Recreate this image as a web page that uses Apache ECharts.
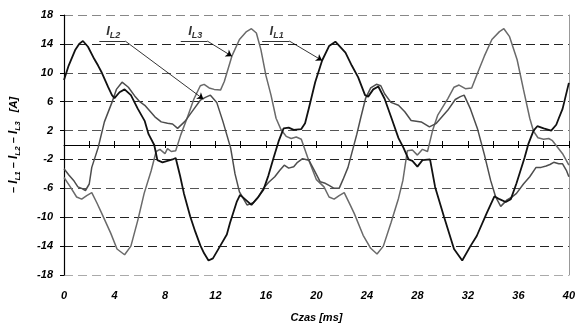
<!DOCTYPE html>
<html>
<head>
<meta charset="utf-8">
<title>Prądy fazowe</title>
<script src="https://cdn.jsdelivr.net/npm/echarts@6/dist/echarts.min.js"></script>
<style>
  html, body { margin: 0; padding: 0; background: #fff; }
  .chart { width: 578px; height: 328px; }
</style>
</head>
<body>
<div class="chart"></div>
<script>
// czas [ms] i prąd [A]
var l1Time = [0, 0.37, 0.9, 1.2, 1.5, 1.9, 2.4, 2.7, 3.0, 3.5, 3.8, 4.0, 4.4, 4.8, 5.3, 5.85, 6.4, 6.7, 7.15, 7.4, 7.8, 8.2, 8.6, 8.85, 9.2, 9.5, 10.0, 10.4, 10.8, 11.1, 11.45, 11.8, 12.4, 12.9, 13.15, 13.7, 13.95, 14.4, 14.85, 15.3, 15.8, 16.2, 16.6, 17.0, 17.4, 17.8, 18.2, 18.8, 19.1, 19.4, 19.9, 20.45, 21.0, 21.5, 22.3, 22.8, 23.3, 23.85, 24.1, 24.5, 24.9, 25.4, 25.95, 26.5, 26.9, 27.3, 27.6, 28.0, 28.4, 29.0, 29.4, 30.1, 30.9, 31.55, 32.2, 32.7, 33.5, 34.1, 34.5, 35.0, 35.4, 35.85, 36.5, 36.8, 37.2, 37.5, 38.0, 38.6, 39.0, 39.2, 39.5, 40];
var l1Val = [9.0, 11.0, 13.2, 14.0, 14.4, 13.6, 11.9, 11.0, 10.0, 8.0, 6.9, 6.5, 7.3, 7.7, 6.9, 5.0, 3.3, 1.5, 0.0, -2.1, -2.4, -2.2, -2.0, -1.8, -4.3, -6.7, -9.9, -12.0, -13.9, -15.0, -16.0, -15.7, -13.9, -12.4, -10.8, -7.8, -6.9, -7.6, -8.3, -7.4, -6.2, -4.2, -1.8, 0.5, 2.3, 2.4, 2.1, 2.2, 3.0, 5.1, 8.7, 11.7, 13.7, 14.3, 12.8, 11.0, 9.4, 6.9, 6.7, 7.7, 8.1, 6.4, 3.7, 0.95, -0.4, -2.0, -2.2, -3.0, -2.1, -2.0, -5.8, -9.9, -14.4, -16.0, -14.0, -12.6, -9.4, -7.1, -7.5, -7.9, -7.5, -5.3, -1.7, 0.2, 2.0, 2.6, 2.3, 2.0, 2.8, 3.7, 5.0, 8.6];

var l2Time = [0, 0.4, 0.8, 1.1, 1.4, 1.7, 2.0, 2.2, 2.7, 3.2, 3.8, 4.15, 4.6, 5.1, 5.6, 6.0, 6.4, 7.2, 7.7, 8.2, 8.6, 9.0, 9.6, 10.3, 10.8, 11.2, 11.6, 12.1, 12.6, 13.2, 13.55, 13.9, 14.5, 15.0, 15.4, 15.8, 16.2, 16.7, 17.1, 17.45, 17.8, 18.2, 18.5, 18.9, 19.4, 19.8, 20.3, 20.7, 21.0, 21.4, 21.8, 22.1, 22.5, 23.2, 23.5, 23.9, 24.3, 24.75, 25.1, 25.4, 25.9, 26.5, 27.0, 27.5, 27.9, 28.3, 28.95, 29.5, 30.0, 30.4, 31.0, 31.4, 31.7, 32.2, 32.75, 33.3, 33.8, 34.2, 34.6, 35.1, 35.5, 35.85, 36.4, 36.9, 37.4, 37.8, 38.2, 38.5, 38.8, 39.2, 39.5, 39.8, 40];
var l2Val = [-3.3, -4.2, -5.0, -5.8, -6.0, -6.3, -5.4, -3.1, -0.4, 3.2, 5.9, 7.7, 8.7, 8.0, 6.8, 6.0, 5.5, 3.9, 3.2, 3.0, 2.9, 2.3, 3.3, 5.0, 6.2, 6.6, 6.9, 5.9, 3.2, -0.4, -4.0, -6.5, -8.3, -8.0, -7.2, -6.0, -5.2, -4.4, -3.5, -2.8, -3.2, -3.0, -2.4, -1.9, -2.1, -3.4, -5.1, -5.3, -5.6, -6.0, -6.0, -4.8, -3.1, 1.5, 3.7, 6.5, 7.9, 8.4, 8.2, 7.1, 5.9, 5.5, 4.6, 3.4, 3.3, 3.2, 2.5, 3.0, 4.0, 4.8, 6.3, 6.7, 6.9, 5.0, 2.3, -1.3, -4.9, -7.2, -8.5, -7.6, -7.2, -6.7, -5.4, -4.4, -3.1, -3.1, -2.9, -2.7, -2.4, -2.6, -2.6, -3.5, -4.4];

var l3Time = [0, 0.5, 1.0, 1.4, 1.8, 2.2, 2.6, 3.0, 3.7, 4.2, 4.8, 5.3, 5.85, 6.35, 6.9, 7.3, 7.6, 8.0, 8.2, 8.5, 8.85, 9.25, 9.75, 10.3, 10.8, 11.1, 11.5, 11.9, 12.4, 12.7, 13.3, 13.9, 14.46, 14.85, 15.24, 15.6, 16.0, 16.4, 16.8, 17.2, 17.6, 18.0, 18.4, 18.8, 19.3, 20.0, 20.6, 21.0, 21.4, 21.8, 22.2, 22.7, 23.0, 23.7, 24.3, 24.8, 25.3, 25.9, 26.5, 26.85, 27.2, 27.6, 28.0, 28.4, 28.8, 29.2, 29.6, 30.4, 30.9, 31.3, 31.8, 32.3, 32.75, 33.3, 33.9, 34.5, 34.85, 35.3, 35.9, 36.4, 36.9, 37.2, 37.55, 38.0, 38.4, 38.7, 39.1, 39.5, 40];
var l3Val = [-4.5, -5.8, -7.2, -7.5, -7.0, -6.6, -8.0, -9.5, -12.2, -14.4, -15.2, -14.0, -10.4, -6.7, -3.6, -0.9, -0.6, -1.2, -0.5, -0.9, -0.8, 1.4, 3.7, 6.4, 8.2, 8.4, 7.9, 7.7, 7.6, 8.8, 12.3, 14.6, 15.7, 16.1, 15.5, 13.2, 9.6, 6.9, 3.7, 2.1, 1.2, 0.9, 1.1, 0.8, -1.7, -4.8, -5.8, -7.2, -7.5, -7.0, -6.6, -8.4, -9.5, -12.5, -14.3, -15.1, -14.0, -10.8, -7.4, -4.9, -0.8, -0.7, -1.4, -0.6, -0.9, 2.0, 4.1, 6.4, 8.0, 8.3, 7.8, 7.9, 9.9, 12.3, 14.6, 15.7, 16.1, 15.0, 11.8, 7.7, 3.7, 1.9, 1.0, 0.8, 0.9, 0.6, -0.3, -1.2, -2.8];

// osie
var xMin = 0, xMax = 40, xStep = 4, xMinorStep = 2;
var yMin = -18, yMax = 18, yStep = 4;

// opisy przebiegów: nazwa, środek napisu, podkreślenie, koniec strzałki
var annNames = ['L2', 'L3', 'L1'];
var annTextAt = [[3.9, 15.7], [10.4, 15.7], [16.85, 15.7]];
var annUnderline = [[2.8, 4.85], [9.25, 11.35], [15.7, 17.85]];
var annUnderlineY = 14.4;
var annArrowTo = [[11.04, 6.36], [13.3, 12.3], [20.45, 11.7]];

(function () {
  var myChart = echarts.init(document.querySelector(".chart"));
  var font = "Liberation Sans, Arial, sans-serif";

  function pairs(t, v) {
    return t.map(function (x, i) { return [x, v[i]]; });
  }

  var annLines = [];
  annUnderline.forEach(function (u, i) {
    annLines.push([
      { coord: [u[0], annUnderlineY], symbol: "none" },
      { coord: [u[1], annUnderlineY], symbol: "none" }
    ]);
    annLines.push([
      { coord: [u[1], annUnderlineY], symbol: "none" },
      { coord: annArrowTo[i], symbol: "arrow" }
    ]);
  });

  var labelText = { fontFamily: font, fontWeight: "bold", fontStyle: "italic", color: "#000" };

  var option = {
    animation: false,
    grid: { left: 62, right: 5, top: 15, bottom: 48 },
    xAxis: [
      {
        type: "value",
        min: xMin, max: xMax, interval: xStep,
        position: "bottom",
        axisLine: { show: false, onZero: false },
        axisTick: { show: false },
        splitLine: { show: false },
        axisLabel: Object.assign({ margin: 15, fontSize: 11 }, labelText),
        name: "Czas [ms]",
        nameLocation: "middle",
        nameGap: 37,
        nameTextStyle: Object.assign({ fontSize: 11 }, labelText)
      },
      {
        // linia zera z kreskami do góry
        type: "value",
        min: xMin, max: xMax, interval: xMinorStep,
        axisLine: { show: true, onZero: true, onZeroAxisIndex: 0, lineStyle: { color: "#000", width: 1 } },
        axisTick: { show: true, inside: true, length: 3, lineStyle: { color: "#000" } },
        axisLabel: { show: false },
        splitLine: { show: false }
      },
      {
        // kreski w dół
        type: "value",
        min: xMin, max: xMax, interval: xMinorStep,
        axisLine: { show: false, onZero: true, onZeroAxisIndex: 0 },
        axisTick: { show: true, length: 4, lineStyle: { color: "#000" } },
        axisLabel: { show: false },
        splitLine: { show: false }
      }
    ],
    yAxis: [
      {
        type: "value",
        min: yMin, max: yMax, interval: yStep,
        axisLine: { show: true, onZero: false, lineStyle: { color: "#000", width: 1.2 } },
        axisTick: { show: true, length: 4, lineStyle: { color: "#000" } },
        axisLabel: Object.assign({ margin: 11, fontSize: 11 }, labelText),
        splitLine: {
          show: true,
          lineStyle: {
            color: ["#aaa", "#222", "#222", "#555", "#222", "#555", "#222", "#555", "#222", "#888"],
            type: [9, 5],
            width: 1
          }
        },
        name: "{d|– }{i|I}{s|L1}{d| – }{i|I}{s|L2}{d| – }{i|I}{s|L3}{d|   [A]}",
        nameLocation: "middle",
        nameGap: 42,
        nameRotate: 90,
        nameTextStyle: {
          rich: {
            d: Object.assign({ fontSize: 11, lineHeight: 16 }, labelText),
            i: Object.assign({ fontSize: 12, lineHeight: 16 }, labelText),
            s: Object.assign({ fontSize: 8, lineHeight: 8, verticalAlign: "bottom" }, labelText)
          }
        }
      },
      {
        // prawa ramka
        type: "value",
        min: yMin, max: yMax,
        position: "right",
        axisLine: { show: true, onZero: false, lineStyle: { color: "#999", width: 1 } },
        axisTick: { show: false },
        axisLabel: { show: false },
        splitLine: { show: false }
      }
    ],
    series: [
      {
        name: "IL3",
        type: "line",
        symbol: "none",
        lineStyle: { color: "#6a6a6a", width: 1.5 },
        data: pairs(l3Time, l3Val)
      },
      {
        name: "IL2",
        type: "line",
        symbol: "none",
        lineStyle: { color: "#4d4d4d", width: 1.5 },
        data: pairs(l2Time, l2Val)
      },
      {
        name: "IL1",
        type: "line",
        symbol: "none",
        lineStyle: { color: "#111", width: 1.8 },
        data: pairs(l1Time, l1Val),
        markLine: {
          silent: true,
          animation: false,
          symbol: ["none", "arrow"],
          symbolSize: 6,
          label: { show: false },
          lineStyle: { color: "#000", width: 0.8, type: "solid" },
          data: annLines
        }
      },
      {
        name: "opisy",
        type: "scatter",
        symbolSize: 0,
        silent: true,
        data: annTextAt,
        label: {
          show: true,
          position: "inside",
          formatter: function (p) {
            return "{i|I}{s|" + annNames[p.dataIndex] + "}";
          },
          rich: {
            i: Object.assign({ fontSize: 13, lineHeight: 16 }, labelText),
            s: Object.assign({ fontSize: 9, lineHeight: 9, verticalAlign: "bottom" }, labelText)
          }
        }
      }
    ]
  };

  myChart.setOption(option);
  window.addEventListener("resize", function () {
    myChart.resize();
  });
})();
</script>
</body>
</html>
